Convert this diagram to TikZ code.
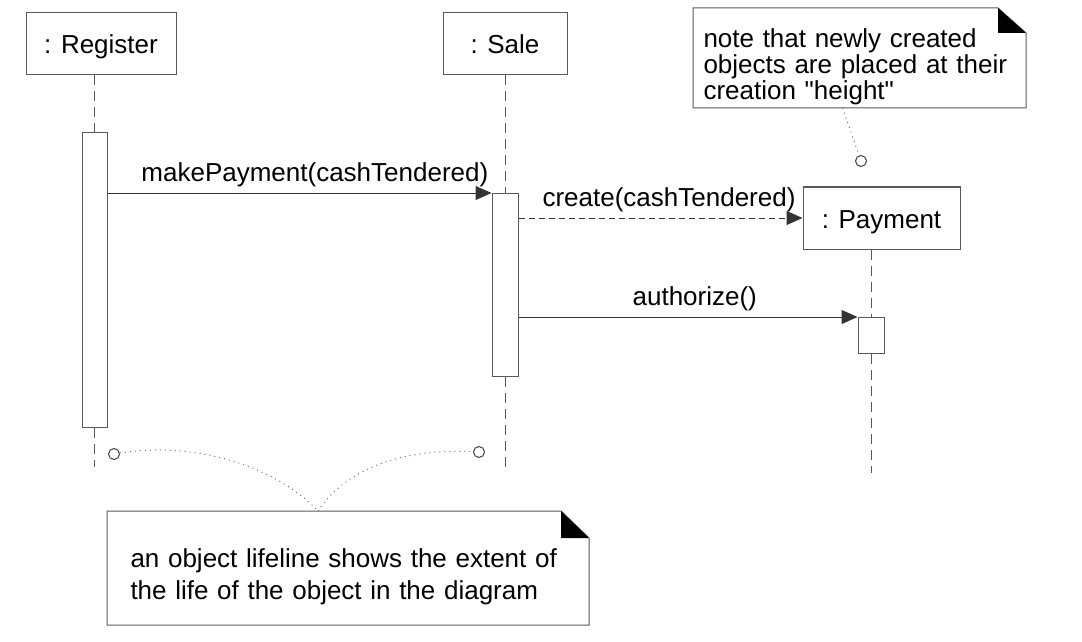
\documentclass[tikz,border=0pt]{standalone}
\usepackage{fontspec}
\setmainfont{Liberation Sans}[Ligatures=TeXOff]
\usetikzlibrary{arrows.meta, positioning}

\begin{document}
\begin{tikzpicture}[x=0.5pt, y=-0.5pt, font=\fontsize{13}{13}\selectfont, line width=0.5pt,
    object/.style={draw=black!65, fill=white, minimum height=31pt, inner sep=0pt, text height=10pt, text depth=0pt},
    activation/.style={draw=black!65, fill=white, minimum width=12.5pt, inner sep=0pt, anchor=north},
    lifeline/.style={draw=black!65, dash pattern=on 5pt off 3pt},
    msg/.style={-{Triangle[length=8pt,width=7pt]}, draw=black!80},
    msglabel/.style={above=2pt, inner sep=1pt},
    notebox/.style={fill=white, align=left, anchor=north west, inner ysep=0pt,
        execute at begin node={\rule{0pt}{18pt}}},
    noteline/.style={draw=black!65},
    anchorline/.style={draw=black!55, dotted},
    lifedot/.style={draw=black!75, circle, fill=white, minimum size=5.5pt, inner sep=0pt}]
        \useasboundingbox (0,0) rectangle (1082,642);

        \node (register) [object, minimum width=75pt] at (101,44) {: Register};
        \node (sale) [object, minimum width=62pt] at (505,44) {: Sale};
        \node (payment) [object, minimum width=78.5pt] at (881.5,218) {: Payment};

        \node (regAct) [activation, minimum height=147.5pt] at (94.5,132) {};
        \node (salAct) [activation, minimum height=91.5pt, minimum width=13pt] at (505,193) {};
        \node (payAct) [activation, minimum height=18pt, minimum width=13pt] at (871,317) {};

        \coordinate (regEnd) at (94.5,467);
        \coordinate (salEnd) at (505,467);
        \coordinate (payEnd) at (871,473);

        \draw[lifeline] (register.south -| regAct.north) -- (regAct.north);
        \draw[lifeline] (regAct.south) -- (regEnd);
        \draw[lifeline] (sale.south) -- (salAct.north);
        \draw[lifeline] (salAct.south) -- (salEnd);
        \draw[lifeline] (payment.south -| payAct.north) -- (payAct.north);
        \draw[lifeline] (payAct.south) -- (payEnd);

        \draw[msg] (regAct.east |- salAct.north) -- node[msglabel, pos=0.54] {makePayment(cashTendered)} (salAct.north west);
        \draw[msg, densely dashed] (salAct.east |- payment.west) -- node[msglabel, pos=0.53] {create(cashTendered)} (payment.west);
        \draw[msg] (salAct.east |- payAct.north) -- node[msglabel, pos=0.52] {authorize()} (payAct.north west);

        \node (creationNote) [notebox, text width=156pt, inner xsep=5pt, minimum height=49.5pt] at (693,8)
            {note that newly created\\objects are placed at their\\creation "height"};
        \draw[noteline] (creationNote.north west) -- ([xshift=-14pt]creationNote.north east)
            -- ([yshift=-12.5pt]creationNote.north east) -- (creationNote.south east)
            -- (creationNote.south west) -- cycle;
        \fill ([xshift=-14pt]creationNote.north east) -- ([xshift=-14pt, yshift=-12.5pt]creationNote.north east)
            -- ([yshift=-12.5pt]creationNote.north east) -- cycle;

        \node (lifeNote) [notebox, text width=217.5pt, inner xsep=11.5pt, minimum height=56.5pt,
            font=\fontsize{13}{16}\selectfont] at (107,511)
            {an object lifeline shows the extent of\\the life of the object in the diagram};
        \draw[noteline] (lifeNote.north west) -- ([xshift=-14pt]lifeNote.north east)
            -- ([yshift=-13.5pt]lifeNote.north east) -- (lifeNote.south east)
            -- (lifeNote.south west) -- cycle;
        \fill ([xshift=-14pt]lifeNote.north east) -- ([xshift=-14pt, yshift=-13.5pt]lifeNote.north east)
            -- ([yshift=-13.5pt]lifeNote.north east) -- cycle;

        \node (creationDot) [lifedot] at (861,161) {};
        \node (regDot) [lifedot] at (114,454) {};
        \node (salDot) [lifedot] at (479,452) {};

        \draw[anchorline] ([xshift=-8.5pt]creationNote.south) -- (creationDot);
        \draw[anchorline] (regDot) .. controls (200,440) and (280,470) .. ([xshift=-15pt]lifeNote.north);
        \draw[anchorline] ([xshift=-15pt]lifeNote.north) .. controls (345,470) and (400,448) .. (salDot);
    \end{tikzpicture}
\end{document}
